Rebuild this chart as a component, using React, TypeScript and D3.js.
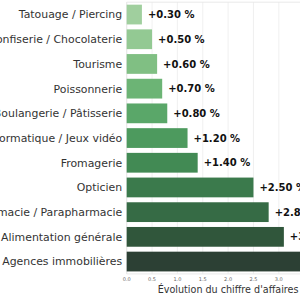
import * as d3 from 'd3'

const CATEGORIES = [
  'Tatouage / Piercing',
  'Confiserie / Chocolaterie',
  'Tourisme',
  'Poissonnerie',
  'Boulangerie / Pâtisserie',
  'Informatique / Jeux vidéo',
  'Fromagerie',
  'Opticien',
  'Pharmacie / Parapharmacie',
  'Alimentation générale',
  'Agences immobilières'
]

const VALUES = [0.3, 0.5, 0.6, 0.7, 0.8, 1.2, 1.4, 2.5, 2.8, 3.1, 3.5]

const TICKS = [0, 0.5, 1, 1.5, 2, 2.5, 3, 3.5, 4]

const BAR_COLORS = [
  '#a0cf9e', '#93c993', '#80bf83', '#6cb475', '#5aa769', '#4d9a5e',
  '#428a54', '#3b7a4c', '#366b45', '#30563b', '#2c4034'
]

const X_TITLE = "Évolution du chiffre d'affaires"

const FONT = '"DejaVu Sans", sans-serif'

export default function App() {
  const width = 300
  const height = 300

  const x = d3.scaleLinear().domain([0, 4]).range([126.7, 329.5])
  const y = d3.scaleBand<string>()
    .domain(CATEGORIES)
    .range([2.2, 273.9])
    .paddingInner(0.2)
    .paddingOuter(0.1)

  const [top, bottom] = y.range()
  const fmt = d3.format('.2f')

  return (
    <svg
      width={width}
      height={height}
      style={{ position: 'absolute', top: 0, left: 0, display: 'block', background: '#fff' }}
    >
      {/* grid */}
      {TICKS.map(t => (
        <line
          key={`g-${t}`}
          x1={x(t)}
          x2={x(t)}
          y1={top}
          y2={bottom}
          stroke="#ececec"
          strokeWidth={0.8}
        />
      ))}
      {/* spines */}
      <line x1={x(0)} x2={x(4)} y1={top} y2={top} stroke="#e4e4e4" strokeWidth={0.8} />
      <line x1={x(0)} x2={x(4)} y1={bottom} y2={bottom} stroke="#e4e4e4" strokeWidth={0.8} />
      <line x1={x(0)} x2={x(0)} y1={top} y2={bottom} stroke="#e4e4e4" strokeWidth={0.8} />

      {/* bars */}
      {CATEGORIES.map((c, i) => (
        <rect
          key={c}
          x={x(0)}
          y={y(c)}
          width={x(VALUES[i]) - x(0)}
          height={y.bandwidth()}
          fill={BAR_COLORS[i]}
        />
      ))}

      {/* category labels */}
      {CATEGORIES.map(c => (
        <text
          key={`l-${c}`}
          x={x(0) - 4.5}
          y={(y(c) ?? 0) + y.bandwidth() / 2}
          dy="0.36em"
          textAnchor="end"
          fontFamily={FONT}
          fontSize={10.9}
          fill="#333"
        >
          {c}
        </text>
      ))}

      {/* value labels */}
      {CATEGORIES.map((c, i) => (
        <text
          key={`v-${c}`}
          x={x(VALUES[i]) + 6}
          y={(y(c) ?? 0) + y.bandwidth() / 2}
          dy="0.36em"
          fontFamily={FONT}
          fontSize={10}
          fontWeight="bold"
          fill="#111"
        >
          {`+${fmt(VALUES[i])} %`}
        </text>
      ))}

      {/* x ticks */}
      {TICKS.map(t => (
        <text
          key={`t-${t}`}
          x={x(t)}
          y={281}
          textAnchor="middle"
          fontFamily={FONT}
          fontSize={5}
          fill="#666"
        >
          {d3.format('.1f')(t)}
        </text>
      ))}

      <text
        x={(x(0) + x(4)) / 2}
        y={293}
        textAnchor="middle"
        fontFamily={FONT}
        fontSize={9.6}
        fill="#333"
      >
        {X_TITLE}
      </text>
    </svg>
  )
}
